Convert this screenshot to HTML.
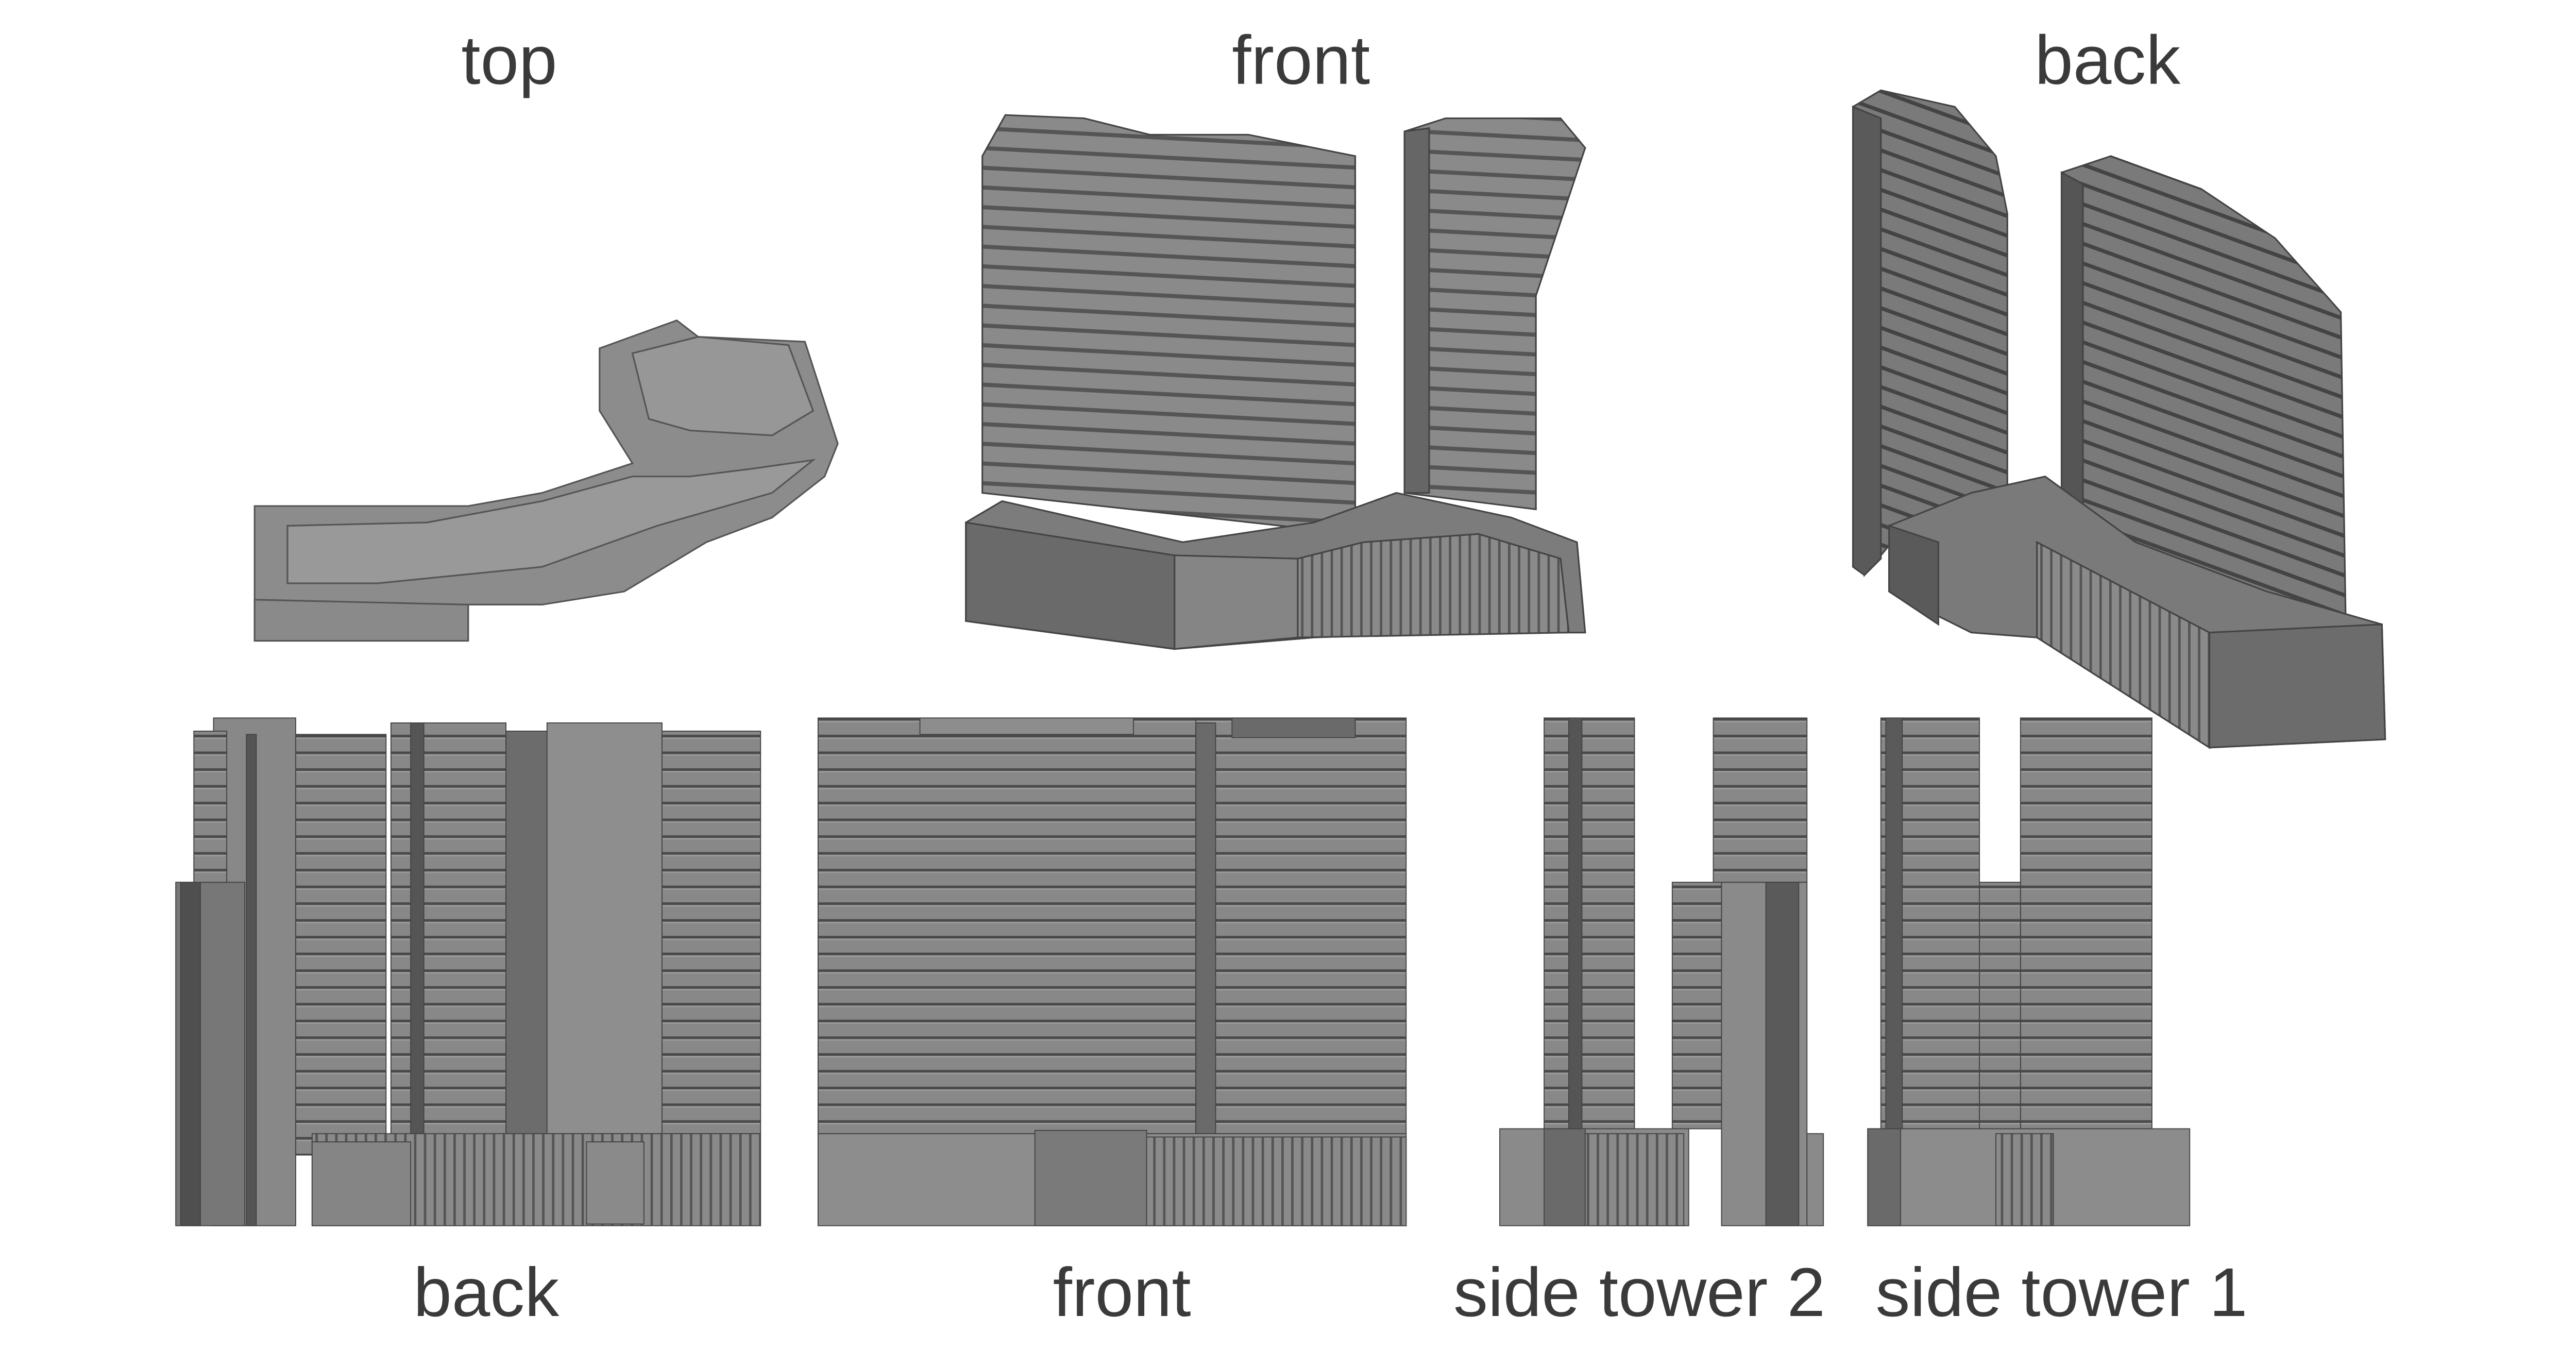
<!DOCTYPE html>
<html><head><meta charset="utf-8"><style>
html,body{margin:0;padding:0;background:#fff;}
svg{display:block;}
text{font-family:"Liberation Sans",sans-serif;fill:#3a3a3a;font-size:42px;text-anchor:middle;}
</style></head><body>
<svg width="5076" height="2651" viewBox="0 0 1592 831.4" preserveAspectRatio="none" xmlns="http://www.w3.org/2000/svg">
<defs>
<pattern id="fl" width="40" height="10.2" patternUnits="userSpaceOnUse">
<rect width="40" height="10.2" fill="#888"/><rect y="8.6" width="40" height="1.6" fill="#4a4a4a"/><rect y="0" width="40" height="1" fill="#9a9a9a"/>
</pattern>
<pattern id="fl2" width="40" height="12" patternUnits="userSpaceOnUse" patternTransform="skewY(3)">
<rect width="40" height="12" fill="#8a8a8a"/><rect y="9.5" width="40" height="2.5" fill="#555"/>
</pattern>
<pattern id="fl3" width="40" height="12" patternUnits="userSpaceOnUse" patternTransform="skewY(20)">
<rect width="40" height="12" fill="#7a7a7a"/><rect y="9.5" width="40" height="2.5" fill="#444"/>
</pattern>
<pattern id="vb" width="6" height="40" patternUnits="userSpaceOnUse">
<rect width="6" height="40" fill="#8a8a8a"/><rect width="1.5" height="40" fill="#555"/>
</pattern>
</defs>

<text x="310" y="51">top</text>
<text x="792" y="51">front</text>
<text x="1283" y="51">back</text>
<text x="296" y="801">back</text>
<text x="683" y="801">front</text>
<text x="998" y="801">side tower 2</text>
<text x="1255" y="801">side tower 1</text>

<!-- top plan -->
<g stroke="#555" stroke-width="1">
<polygon points="155,308 285,308 330,300 385,282 365,250 365,212 412,195 425,205 490,208 510,270 502,290 470,315 430,330 380,360 330,368 285,368 285,390 155,390" fill="#8c8c8c"/>
<polygon points="175,320 260,318 330,305 385,290 420,290 460,285 495,280 470,300 400,320 330,345 230,355 175,355" fill="#999"/>
<polygon points="385,215 425,205 480,210 495,250 470,265 420,262 395,255" fill="#979797"/>
<polygon points="155,365 285,368 285,390 155,390" fill="#8a8a8a"/>
</g>

<!-- front iso -->
<g stroke="#444" stroke-width="1">
<polygon points="612,70 660,72 700,82 760,82 825,95 825,325 598,300 598,95" fill="url(#fl2)"/>
<polygon points="855,80 880,72 950,72 965,90 935,180 935,310 855,300" fill="url(#fl2)"/>
<polygon points="855,80 870,78 870,300 855,300" fill="#666"/>
<polygon points="588,318 610,305 720,330 800,318 850,300 920,315 960,330 965,385 930,385 880,385 800,388 715,395 588,378" fill="#7c7c7c"/>
<polygon points="588,318 715,338 715,395 588,378" fill="#6a6a6a"/>
<polygon points="790,340 830,330 900,325 950,340 955,385 790,388" fill="url(#vb)"/>
<polygon points="715,338 790,340 790,388 715,395" fill="#858585"/>
</g>

<!-- back iso -->
<g stroke="#444" stroke-width="1">
<polygon points="1128,65 1145,55 1190,65 1215,95 1222,130 1222,300 1160,320 1135,350" fill="url(#fl3)"/>
<polygon points="1128,65 1145,72 1145,340 1135,350 1128,345" fill="#5a5a5a"/>
<polygon points="1255,105 1285,95 1340,115 1385,145 1425,190 1428,380 1360,360 1300,330 1260,330" fill="url(#fl3)"/>
<polygon points="1255,105 1268,112 1268,335 1255,330" fill="#555"/>
<polygon points="1150,320 1200,300 1245,290 1300,330 1380,360 1450,380 1452,450 1345,455 1240,388 1200,385 1150,360" fill="#7a7a7a"/>
<polygon points="1150,320 1180,330 1180,380 1150,360" fill="#5a5a5a"/>
<polygon points="1240,330 1345,385 1345,455 1240,388" fill="url(#vb)"/>
<polygon points="1345,385 1450,380 1452,450 1345,455" fill="#6c6c6c"/>
</g>

<!-- back elevation -->
<g stroke="#444" stroke-width="0.6">
<rect x="130" y="437" width="50" height="309" fill="#888"/>
<rect x="107" y="537" width="42" height="209" fill="#777"/>
<rect x="110" y="537" width="12" height="209" fill="#4f4f4f"/>
<rect x="118" y="445" width="20" height="92" fill="url(#fl)"/>
<rect x="150" y="447" width="6" height="299" fill="#555"/>
<rect x="180" y="447" width="55" height="256" fill="url(#fl)"/>
<rect x="238" y="440" width="70" height="251" fill="url(#fl)"/>
<rect x="250" y="440" width="8" height="251" fill="#555"/>
<rect x="308" y="445" width="25" height="245" fill="#6c6c6c"/>
<rect x="333" y="440" width="70" height="250" fill="#8e8e8e"/>
<rect x="403" y="445" width="60" height="245" fill="url(#fl)"/>
<rect x="190" y="690" width="273" height="56" fill="url(#vb)"/>
<rect x="190" y="695" width="60" height="51" fill="#858585"/>
<rect x="357" y="695" width="35" height="50" fill="#8a8a8a"/>
</g>

<!-- front elevation -->
<g stroke="#444" stroke-width="0.6">
<rect x="498" y="437" width="230" height="253" fill="url(#fl)"/>
<rect x="560" y="437" width="130" height="10" fill="#8d8d8d"/>
<rect x="728" y="437" width="128" height="253" fill="url(#fl)"/>
<rect x="728" y="440" width="12" height="250" fill="#6a6a6a"/>
<rect x="750" y="437" width="75" height="12" fill="#6a6a6a"/>
<rect x="498" y="690" width="358" height="56" fill="#8d8d8d"/>
<rect x="630" y="688" width="68" height="58" fill="#7a7a7a"/>
<rect x="698" y="692" width="158" height="54" fill="url(#vb)"/>
</g>

<!-- side tower 2 -->
<g stroke="#444" stroke-width="0.6">
<rect x="940" y="437" width="55" height="250" fill="url(#fl)"/>
<rect x="955" y="437" width="8" height="250" fill="#555"/>
<rect x="1043" y="437" width="57" height="100" fill="url(#fl)"/>
<rect x="1018" y="537" width="30" height="150" fill="url(#fl)"/>
<rect x="1048" y="537" width="52" height="209" fill="#8a8a8a"/>
<rect x="1075" y="537" width="20" height="209" fill="#5a5a5a"/>
<rect x="913" y="687" width="115" height="59" fill="#8a8a8a"/>
<rect x="940" y="687" width="25" height="59" fill="#6a6a6a"/>
<rect x="965" y="690" width="60" height="56" fill="url(#vb)"/>
<rect x="1100" y="690" width="10" height="56" fill="#8a8a8a"/>
</g>

<!-- side tower 1 -->
<g stroke="#444" stroke-width="0.6">
<rect x="1145" y="437" width="60" height="250" fill="url(#fl)"/>
<rect x="1148" y="437" width="10" height="250" fill="#5a5a5a"/>
<rect x="1230" y="437" width="80" height="250" fill="url(#fl)"/>
<rect x="1205" y="537" width="25" height="150" fill="url(#fl)"/>
<rect x="1137" y="687" width="196" height="59" fill="#8c8c8c"/>
<rect x="1137" y="687" width="20" height="59" fill="#6a6a6a"/>
<rect x="1215" y="690" width="35" height="56" fill="url(#vb)"/>
</g>
</svg>
</body></html>
